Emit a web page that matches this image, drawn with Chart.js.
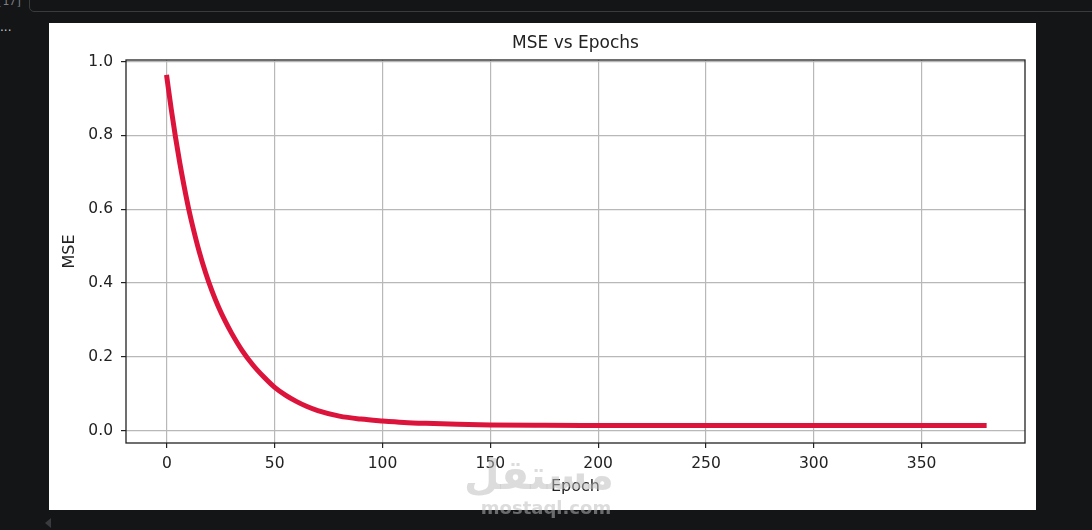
<!DOCTYPE html>
<html>
<head>
<meta charset="utf-8">
<script src="https://cdn.jsdelivr.net/npm/chart.js@4.4.1/dist/chart.umd.min.js"></script>
<style>
html,body{margin:0;padding:0;background:#141517;width:1092px;height:530px;overflow:hidden;font-family:"DejaVu Sans",sans-serif;}
#cell{position:absolute;left:29px;top:-12px;width:1075px;height:22px;border:1px solid #3a3b3f;border-radius:5px;}
#prompt{position:absolute;left:-4px;top:-5px;color:#7d7f84;font:11px "DejaVu Sans Mono",monospace;}
#dots{position:absolute;left:0px;top:20px;color:#c8c8c8;font:12px "DejaVu Sans",sans-serif;}
#tri{position:absolute;left:45px;top:518px;width:0;height:0;border-top:5px solid transparent;border-bottom:5px solid transparent;border-right:6px solid #3a3b3f;}
#fig{position:absolute;left:49px;top:23px;width:987px;height:487px;background:#ffffff;}
#fig canvas{position:absolute;left:0;top:0;}
#wm1{position:absolute;left:478px;top:448px;width:136px;text-align:center;font:bold 41px "DejaVu Sans",sans-serif;color:rgba(187,187,187,0.52);pointer-events:none;line-height:54px;}
#wm2{position:absolute;left:476px;top:497px;width:140px;text-align:center;font:bold 18px "DejaVu Sans",sans-serif;color:rgba(187,187,187,0.52);pointer-events:none;line-height:22px;}
</style>
</head>
<body>
<div id="cell"></div>
<div id="prompt">[17]</div>
<div id="dots">...</div>
<div id="tri"></div>
<div id="fig"><canvas id="c" width="987" height="487"></canvas></div>
<div id="wm1" dir="rtl">مستقل</div>
<div id="wm2">mostaql.com</div>
<script>
// ---- data ----
const epochs = [0, 2, 4, 6, 8, 10, 12, 15, 18, 21, 24, 27, 30, 35, 40, 45, 50, 55, 60, 65, 70, 80, 90, 100, 110, 120, 135, 150, 175, 200, 250, 300, 350, 379];
const mse = [0.957, 0.872, 0.795, 0.725, 0.662, 0.604, 0.553, 0.485, 0.427, 0.377, 0.334, 0.297, 0.264, 0.216, 0.177, 0.145, 0.117, 0.096, 0.079, 0.065, 0.054, 0.039, 0.031, 0.026, 0.022, 0.0195, 0.0168, 0.0152, 0.0142, 0.0138, 0.0135, 0.0134, 0.0134, 0.0134];
const xTicks = [0, 50, 100, 150, 200, 250, 300, 350];
const yTicks = [0.0, 0.2, 0.4, 0.6, 0.8, 1.0];
const chartTitle = "MSE vs Epochs";
const xLabel = "Epoch";
const yLabel = "MSE";

// matplotlib-like 5% margins
const xMinD = Math.min(...epochs), xMaxD = Math.max(...epochs);
const yMinD = Math.min(...mse), yMaxD = Math.max(...mse);
const xr = xMaxD - xMinD, yr = yMaxD - yMinD;

const FONT = '"DejaVu Sans", sans-serif';
const TXT = '#222222';

const spines = {
  id: 'spines',
  afterDatasetsDraw(chart) {
    const a = chart.chartArea, ctx = chart.ctx;
    ctx.save();
    ctx.strokeStyle = '#222';
    ctx.lineWidth = 1.3;
    ctx.strokeRect(a.left, a.top, a.right - a.left, a.bottom - a.top);
    ctx.restore();
  }
};

new Chart(document.getElementById('c'), {
  type: 'line',
  data: {
    datasets: [{
      data: epochs.map((e, i) => ({x: e, y: mse[i]})),
      borderColor: '#dc143c',
      backgroundColor: '#dc143c',
      borderWidth: 5,
      pointRadius: 0,
      cubicInterpolationMode: 'monotone',
      borderCapStyle: 'square',
      fill: false
    }]
  },
  options: {
    responsive: false,
    animation: false,
    devicePixelRatio: 1,
    layout: {padding: {top: 0, right: 11, bottom: 0, left: 0}},
    plugins: {
      legend: {display: false},
      tooltip: {enabled: false},
      title: {
        display: true,
        text: chartTitle,
        fullSize: false,
        color: TXT,
        font: {family: FONT, size: 17, weight: 'normal'},
        padding: {top: 10.5, bottom: 6.1}
      }
    },
    scales: {
      x: {
        type: 'linear',
        min: xMinD - 0.05 * xr,
        max: xMaxD + 0.05 * xr,
        afterBuildTicks: s => { s.ticks = xTicks.map(v => ({value: v})); },
        afterFit: s => { s.height = 67; },
        grid: {color: '#b8b8b8', lineWidth: 1.2, tickColor: '#222', tickLength: 5, tickWidth: 1.2, drawTicks: true},
        border: {display: false},
        ticks: {color: TXT, font: {family: FONT, size: 15.5}, padding: 7, maxRotation: 0, autoSkip: false,
                callback: v => String(v)},
        title: {display: true, text: xLabel, color: TXT, font: {family: FONT, size: 16}, padding: {top: 13.4, bottom: 13.4}}
      },
      y: {
        type: 'linear',
        min: yMinD - 0.05 * yr,
        max: yMaxD + 0.05 * yr,
        afterBuildTicks: s => { s.ticks = yTicks.map(v => ({value: v})); },
        afterFit: s => { s.width = 77; },
        grid: {color: '#b8b8b8', lineWidth: 1.2, tickColor: '#222', tickLength: 5, tickWidth: 1.2, drawTicks: true},
        border: {display: false},
        ticks: {color: TXT, font: {family: FONT, size: 15.5}, padding: 8, autoSkip: false,
                callback: v => Number(v).toFixed(1)},
        title: {display: true, text: yLabel, color: TXT, font: {family: FONT, size: 16}, padding: {top: 11.4, bottom: 0}}
      }
    }
  },
  plugins: [spines]
});
</script>
</body>
</html>
